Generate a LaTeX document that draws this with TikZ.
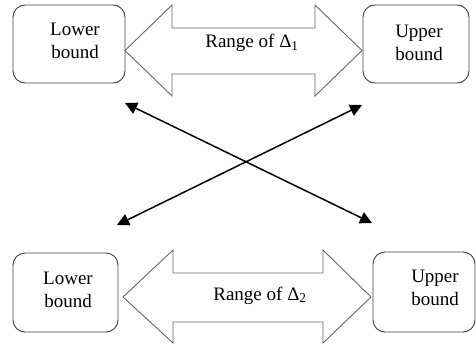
\documentclass[tikz,border=0pt]{standalone}
\usepackage{fontspec}
\setmainfont{Liberation Serif}
\usetikzlibrary{arrows.meta}
\begin{document}
\begin{tikzpicture}[x=1pt,y=-1pt,
  bx/.style={draw=black!75, line width=0.9pt, rounded corners=12pt},
  lbl/.style={font=\fontsize{19}{23}\selectfont, align=center, inner sep=0pt},
  bigarrow/.style={draw=black!60, line width=0.9pt, fill=white, line join=miter},
  cross/.style={line width=1.5pt, {Triangle[length=12pt,width=12pt]}-{Triangle[length=12pt,width=12pt]}}]
\useasboundingbox (0,0) rectangle (476,345);
% boxes
\draw[bx] (13,5) rectangle (125,83);
\draw[bx] (363,5) rectangle (469,83);
\draw[bx] (13,253) rectangle (118,332);
\draw[bx] (373,252) rectangle (475,332);
% double arrows
\draw[bigarrow] (125,50.5) -- (172,5) -- (172,28) -- (315,28) -- (315,5) -- (362,50.5)
  -- (315,96) -- (315,74) -- (172,74) -- (172,96) -- cycle;
\draw[bigarrow] (123,297) -- (173,250) -- (173,273) -- (323,273) -- (323,250) -- (371,297)
  -- (323,343) -- (323,322) -- (173,322) -- (173,343) -- cycle;
% labels
\node[lbl] (tlt) at (75,41) {Lower\\bound};
\node[lbl] (trt) at (419,43) {Upper\\bound};
\node[lbl] (blt) at (68,290) {Lower\\bound};
\node[lbl] (brt) at (435,288) {Upper\\bound};
\node[lbl, anchor=base] (r1) at (252,48) {Range of Δ\textsubscript{1}};
\node[lbl, anchor=base] (r2) at (260,300) {Range of Δ\textsubscript{2}};
% crossing arrows
\coordinate (a1) at (125,103);
\coordinate (a2) at (372,223);
\coordinate (b1) at (117,225);
\coordinate (b2) at (362,105);
\draw[cross] (a1) -- (a2);
\draw[cross] (b1) -- (b2);
\end{tikzpicture}
\end{document}
